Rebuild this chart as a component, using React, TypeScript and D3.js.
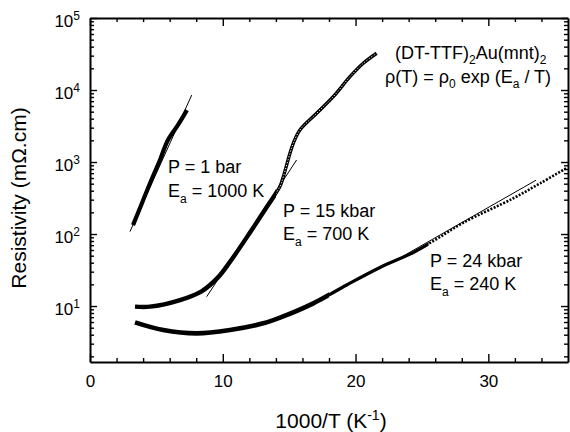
import React, { useEffect, useRef } from 'react';
import * as d3 from 'd3';

// 1000/T (K^-1) vs resistivity (mOhm.cm)
const bar1: [number, number][] = [
  [3.24, 133], [3.92, 270], [4.59, 545], [5.27, 1067], [5.87, 2020], [6.63, 3270], [7.3, 5250],
];
const kbar15: [number, number][] = [
  [3.39, 9.8], [4.52, 9.8], [6.78, 12.1], [8.4, 16], [9.64, 25], [10.54, 41], [12.05, 105],
  [13.3, 235], [14.31, 460], [14.56, 625], [15.06, 1320], [15.31, 1820], [15.81, 2780],
  [17.07, 4750], [18.32, 8070], [19.58, 15300], [20.58, 23500], [21.59, 32400],
];
const kbar24: [number, number][] = [
  [3.39, 5.94], [5.52, 4.64], [8.03, 4.17], [10.54, 4.64], [13.05, 5.75], [14.31, 6.9],
  [16.82, 10.9], [19.33, 19.6], [21.84, 34.3], [24.35, 55.4], [26.1, 85], [28.1, 143],
  [31.87, 313], [33.9, 506], [35.9, 826],
];
// activation fits (thin lines)
const fit1: [number, number][] = [[3.01, 108], [7.66, 8500]];
const fit15: [number, number][] = [[8.79, 13.5], [15.56, 1067]];
const fit24: [number, number][] = [[22.5, 38], [33.6, 560]];

const xMajor = [0, 10, 20, 30];
const yMajor = [1e1, 1e2, 1e3, 1e4, 1e5];

const FONT = '"Liberation Sans", Arial, Helvetica, sans-serif';

export default function App() {
  const gRef = useRef<SVGGElement>(null);

  useEffect(() => {
    document.body.style.margin = '0';
    const svg = d3.select(gRef.current);
    svg.selectAll('*').remove();

    const left = 90, right = 568, top = 18, bottom = 362;
    const x = d3.scaleLinear().domain([0, 36]).range([left, right]);
    const y = d3.scaleLog().domain([1.67, 1e5]).range([bottom, top]);

    const xMinor = d3.range(2, 36, 2).filter((v) => v % 10 !== 0);
    const yMinor: number[] = [];
    for (let e = 0; e < 5; e++) {
      for (let k = 2; k < 10; k++) {
        const v = k * Math.pow(10, e);
        if (v >= 1.67 && v <= 1e5) yMinor.push(v);
      }
    }

    const style = (g: any) => {
      g.selectAll('.domain').attr('stroke-width', 2);
      g.selectAll('.tick line').attr('stroke-width', 1.4);
      g.attr('font-family', FONT).attr('font-size', 17);
    };

    // bottom
    const gb = svg.append('g').attr('transform', `translate(0,${bottom})`)
      .call(d3.axisBottom(x).tickValues(xMajor).tickSizeInner(-8).tickSizeOuter(0).tickPadding(13));
    style(gb);
    gb.selectAll('.tick text').attr('fill', '#000');
    const gbm = svg.append('g').attr('transform', `translate(0,${bottom})`)
      .call(d3.axisBottom(x).tickValues(xMinor).tickSizeInner(-4).tickFormat(() => ''));
    gbm.select('.domain').remove();
    style(gbm);

    // top
    const gt = svg.append('g').attr('transform', `translate(0,${top})`)
      .call(d3.axisTop(x).tickValues(xMajor).tickSizeInner(-8).tickSizeOuter(0).tickFormat(() => ''));
    style(gt);
    const gtm = svg.append('g').attr('transform', `translate(0,${top})`)
      .call(d3.axisTop(x).tickValues(xMinor).tickSizeInner(-4).tickFormat(() => ''));
    gtm.select('.domain').remove();
    style(gtm);

    // left
    const gl = svg.append('g').attr('transform', `translate(${left},0)`)
      .call(d3.axisLeft(y).tickValues(yMajor).tickSizeInner(-7).tickSizeOuter(0).tickPadding(10));
    style(gl);
    gl.selectAll('.tick text').each(function (d: any) {
      const t = d3.select(this as SVGTextElement);
      t.text(null).attr('dy', '0.5em').attr('fill', '#000');
      t.append('tspan').text('10');
      t.append('tspan').attr('dy', '-0.6em').attr('font-size', 12).text(Math.round(Math.log10(d)));
    });
    const glm = svg.append('g').attr('transform', `translate(${left},0)`)
      .call(d3.axisLeft(y).tickValues(yMinor).tickSizeInner(-4).tickFormat(() => ''));
    glm.select('.domain').remove();
    style(glm);

    // right
    const gr = svg.append('g').attr('transform', `translate(${right},0)`)
      .call(d3.axisRight(y).tickValues(yMajor).tickSizeInner(-7).tickSizeOuter(0).tickFormat(() => ''));
    style(gr);
    const grm = svg.append('g').attr('transform', `translate(${right},0)`)
      .call(d3.axisRight(y).tickValues(yMinor).tickSizeInner(-4).tickFormat(() => ''));
    grm.select('.domain').remove();
    style(grm);

    // clip regions for dense / sparse parts of the measured curves
    const defs = svg.append('defs');
    const clip = (id: string, x0: number, x1: number) => {
      defs.append('clipPath').attr('id', id).append('rect')
        .attr('x', x(x0)).attr('y', 0).attr('width', x(x1) - x(x0)).attr('height', 432);
    };
    clip('c15a', 0, 14.0);
    clip('c15b', 14.0, 36);
    clip('c24a', 0, 18);
    clip('c24b', 18, 25.5);
    clip('c24c', 25.5, 36);

    const line = d3.line<[number, number]>()
      .x((d) => x(d[0]))
      .y((d) => y(d[1]))
      .curve(d3.curveCatmullRom.alpha(0.5));

    const plot = svg.append('g');

    // fits
    [fit1, fit15, fit24].forEach((f) => {
      plot.append('path').attr('d', line(f)).attr('fill', 'none').attr('stroke', '#000').attr('stroke-width', 1);
    });

    // 1 bar
    plot.append('path').attr('d', line(bar1)).attr('fill', 'none')
      .attr('stroke', '#000').attr('stroke-width', 4.2);

    // 15 kbar
    plot.append('path').attr('d', line(kbar15)).attr('clip-path', 'url(#c15a)')
      .attr('fill', 'none').attr('stroke', '#000').attr('stroke-width', 4.4);
    plot.append('path').attr('d', line(kbar15)).attr('clip-path', 'url(#c15b)')
      .attr('fill', 'none').attr('stroke', '#000').attr('stroke-width', 3.4);
    plot.append('path').attr('d', line(kbar15)).attr('clip-path', 'url(#c15b)')
      .attr('fill', 'none').attr('stroke', '#fff').attr('stroke-width', 1)
      .attr('stroke-dasharray', '1.2 1.8');

    // 24 kbar
    plot.append('path').attr('d', line(kbar24)).attr('clip-path', 'url(#c24a)')
      .attr('fill', 'none').attr('stroke', '#000').attr('stroke-width', 4.6);
    plot.append('path').attr('d', line(kbar24)).attr('clip-path', 'url(#c24b)')
      .attr('fill', 'none').attr('stroke', '#000').attr('stroke-width', 3.2);
    plot.append('path').attr('d', line(kbar24)).attr('clip-path', 'url(#c24c)')
      .attr('fill', 'none').attr('stroke', '#000').attr('stroke-width', 2.6)
      .attr('stroke-dasharray', '2 1.5');
  }, []);

  const sub = { fontSize: 12 };
  return (
    <svg width={570} height={432} style={{ display: 'block', background: '#fff' }}>
      <g ref={gRef} />
      <g fontFamily={FONT} fontSize={18} fill="#000" style={{ pointerEvents: 'none' }}>
        <text x={395} y={59}>
          (DT-TTF)<tspan dy={5} {...sub}>2</tspan><tspan dy={-5}>Au(mnt)</tspan><tspan dy={5} {...sub}>2</tspan>
        </text>
        <text x={385} y={83}>
          ρ(T) = ρ<tspan dy={5} {...sub}>0</tspan><tspan dy={-5}> exp (E</tspan><tspan dy={5} {...sub}>a</tspan><tspan dy={-5}> / T)</tspan>
        </text>

        <text x={168} y={173}>P = 1 bar</text>
        <text x={168} y={197}>
          E<tspan dy={6} {...sub}>a</tspan><tspan dy={-6}> = 1000 K</tspan>
        </text>

        <text x={283} y={217}>P = 15 kbar</text>
        <text x={283} y={240}>
          E<tspan dy={6} {...sub}>a</tspan><tspan dy={-6}> = 700 K</tspan>
        </text>

        <text x={430} y={267}>P = 24 kbar</text>
        <text x={430} y={290}>
          E<tspan dy={6} {...sub}>a</tspan><tspan dy={-6}> = 240 K</tspan>
        </text>

        <text x={331} y={428} fontSize={21} textAnchor="middle">
          1000/T (K<tspan dy={-8} fontSize={14}>-1</tspan><tspan dy={8}>)</tspan>
        </text>
        <text transform="translate(26,198) rotate(-90)" fontSize={21} textAnchor="middle">
          Resistivity (mΩ.cm)
        </text>
      </g>
    </svg>
  );
}
